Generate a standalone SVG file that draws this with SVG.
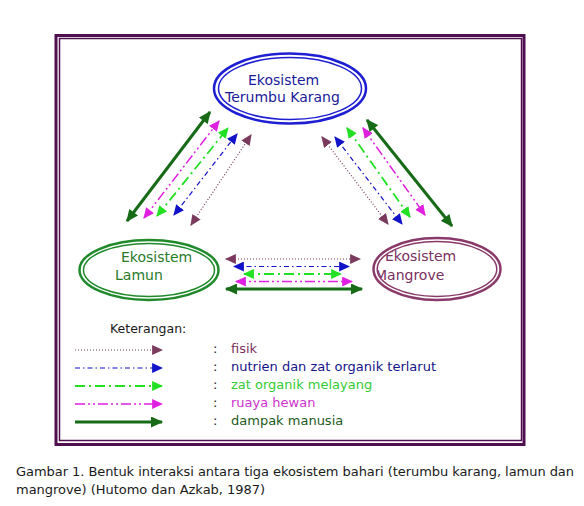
<svg xmlns="http://www.w3.org/2000/svg" width="584" height="506" viewBox="0 0 584 506">
<style>
text{font-family:"DejaVu Sans","Liberation Sans",sans-serif}
.lbl{font-size:14px}
.leg{font-size:13px}
.cap{font-size:13px;fill:#1a1a1a}
.fisik{stroke:#7a3a5e;stroke-width:1.2;stroke-dasharray:1 2;fill:none}
.nut{stroke:#1212c8;stroke-width:1.2;stroke-dasharray:5 3 1.5 3;fill:none}
.zat{stroke:#22e022;stroke-width:1.8;stroke-dasharray:10 4 2 4;fill:none}
.ruaya{stroke:#e020e0;stroke-width:1.5;stroke-dasharray:10 3 2 3 2 3;fill:none}
.dampak{stroke:#176b17;stroke-width:3;fill:none}
.frame{fill:none;stroke:#501050}
</style>
<defs>
<marker id="aF" viewBox="0 0 10 9" refX="9" refY="4.5" markerWidth="11" markerHeight="10" markerUnits="userSpaceOnUse" orient="auto-start-reverse"><path d="M0,0L10,4.5L0,9z" fill="#7a3a5e"/></marker>
<marker id="aN" viewBox="0 0 10 9" refX="9" refY="4.5" markerWidth="11" markerHeight="10" markerUnits="userSpaceOnUse" orient="auto-start-reverse"><path d="M0,0L10,4.5L0,9z" fill="#1212c8"/></marker>
<marker id="aZ" viewBox="0 0 10 9" refX="9" refY="4.5" markerWidth="11" markerHeight="10" markerUnits="userSpaceOnUse" orient="auto-start-reverse"><path d="M0,0L10,4.5L0,9z" fill="#22e022"/></marker>
<marker id="aR" viewBox="0 0 10 9" refX="9" refY="4.5" markerWidth="11" markerHeight="10" markerUnits="userSpaceOnUse" orient="auto-start-reverse"><path d="M0,0L10,4.5L0,9z" fill="#e020e0"/></marker>
<marker id="aD" viewBox="0 0 10 9" refX="9" refY="4.5" markerWidth="13" markerHeight="11" markerUnits="userSpaceOnUse" orient="auto-start-reverse"><path d="M0,0L10,4.5L0,9z" fill="#176b17"/></marker>
</defs>
<rect width="584" height="506" fill="#ffffff"/>
<g id="frame">
<rect class="frame" x="56" y="35.5" width="468" height="409" stroke-width="3"/>
<rect class="frame" x="59.5" y="38.5" width="462" height="402" stroke-width="1.5"/>
</g>

<g id="connectors">
<g id="left-links">
<line class="dampak" x1="127" y1="221" x2="210" y2="112" marker-start="url(#aD)" marker-end="url(#aD)"/>
<line class="ruaya" x1="144" y1="218" x2="219" y2="121" marker-start="url(#aR)" marker-end="url(#aR)"/>
<line class="zat" x1="157" y1="216" x2="228" y2="128" marker-start="url(#aZ)" marker-end="url(#aZ)"/>
<line class="nut" x1="174" y1="215" x2="237" y2="134" marker-start="url(#aN)" marker-end="url(#aN)"/>
<line class="fisik" x1="191" y1="225" x2="251" y2="135" marker-start="url(#aF)" marker-end="url(#aF)"/>
</g>
<g id="right-links">
<line class="fisik" x1="322" y1="137" x2="388" y2="224" marker-start="url(#aF)" marker-end="url(#aF)"/>
<line class="nut" x1="335" y1="137" x2="402" y2="224" marker-start="url(#aN)" marker-end="url(#aN)"/>
<line class="zat" x1="347" y1="128" x2="410" y2="217" marker-start="url(#aZ)" marker-end="url(#aZ)"/>
<line class="ruaya" x1="363" y1="128" x2="425" y2="215" marker-start="url(#aR)" marker-end="url(#aR)"/>
<line class="dampak" x1="367" y1="120" x2="452" y2="226" marker-start="url(#aD)" marker-end="url(#aD)"/>
</g>
<g id="bottom-links">
<line class="fisik" x1="226" y1="259" x2="360" y2="259" marker-start="url(#aF)" marker-end="url(#aF)"/>
<line class="nut" x1="234" y1="266.5" x2="349" y2="266.5" marker-start="url(#aN)" marker-end="url(#aN)"/>
<line class="zat" x1="244" y1="274" x2="341" y2="274" marker-start="url(#aZ)" marker-end="url(#aZ)"/>
<line class="ruaya" x1="236" y1="281.5" x2="352" y2="281.5" marker-start="url(#aR)" marker-end="url(#aR)"/>
<line class="dampak" x1="226" y1="289" x2="362" y2="289" marker-start="url(#aD)" marker-end="url(#aD)"/>
</g>
</g>

<g id="terumbu-karang">
<ellipse cx="290" cy="88.5" rx="76" ry="35" fill="#ffffff" stroke="#1e1ed2" stroke-width="2.5"/>
<ellipse cx="290" cy="88.5" rx="71.5" ry="31" fill="none" stroke="#1e1ed2" stroke-width="1.5"/>
<text class="lbl" x="248" y="84.5" fill="#1a1a9a">Ekosistem</text>
<text class="lbl" x="225" y="102" fill="#1a1a9a">Terumbu Karang</text>
</g>

<g id="lamun">
<ellipse cx="149" cy="270" rx="69.5" ry="30" fill="#ffffff" stroke="#1f8a2a" stroke-width="2.5"/>
<ellipse cx="149" cy="270" rx="65.5" ry="26.5" fill="none" stroke="#1f8a2a" stroke-width="1.5"/>
<text class="lbl" x="121" y="262" fill="#2a7a2a">Ekosistem</text>
<text class="lbl" x="115" y="280" fill="#2a7a2a">Lamun</text>
</g>

<g id="mangrove">
<ellipse cx="437" cy="269" rx="63.5" ry="31" fill="#ffffff"/>
<text class="lbl" x="385" y="261" fill="#7a3060">Ekosistem</text>
<text class="lbl" x="375" y="280" fill="#7a3060">Mangrove</text>
<ellipse cx="437" cy="269" rx="61.7" ry="29.2" fill="none" stroke="#ffffff" stroke-width="3"/>
<ellipse cx="437" cy="269" rx="63.5" ry="31" fill="none" stroke="#8a3a6a" stroke-width="2.5"/>
<ellipse cx="437" cy="269" rx="59.8" ry="27.4" fill="none" stroke="#8a3a6a" stroke-width="1.5"/>
</g>

<g id="legend">
<text x="110" y="333" font-size="12.5" fill="#1a1a1a">Keterangan:</text>
<line class="fisik" x1="75" y1="350" x2="162" y2="350" marker-end="url(#aF)"/>
<line class="nut" x1="75" y1="368" x2="162" y2="368" marker-end="url(#aN)"/>
<line class="zat" x1="75" y1="386" x2="162" y2="386" marker-end="url(#aZ)"/>
<line class="ruaya" x1="75" y1="404" x2="162" y2="404" marker-end="url(#aR)"/>
<line class="dampak" x1="75" y1="422" x2="162" y2="422" marker-end="url(#aD)"/>
<g class="leg" font-size="13">
<text x="213" y="353" fill="#1a1a1a">:</text>
<text x="213" y="371" fill="#1a1a1a">:</text>
<text x="213" y="389" fill="#1a1a1a">:</text>
<text x="213" y="407" fill="#1a1a1a">:</text>
<text x="213" y="425" fill="#1a1a1a">:</text>
<text x="231" y="353" fill="#7a3060">fisik</text>
<text x="231" y="371" fill="#14148a">nutrien dan zat organik terlarut</text>
<text x="231" y="389" fill="#33cc33">zat organik melayang</text>
<text x="231" y="407" fill="#cc33cc">ruaya hewan</text>
<text x="231" y="425" fill="#1a5a1a">dampak manusia</text>
</g>
</g>

<g id="caption">
<text class="cap" x="16" y="476" textLength="558" lengthAdjust="spacing">Gambar 1. Bentuk interaksi antara tiga ekosistem bahari (terumbu karang,  lamun  dan</text>
<text class="cap" x="16" y="494" textLength="249" lengthAdjust="spacing">mangrove) (Hutomo dan Azkab, 1987)</text>
</g>
</svg>
